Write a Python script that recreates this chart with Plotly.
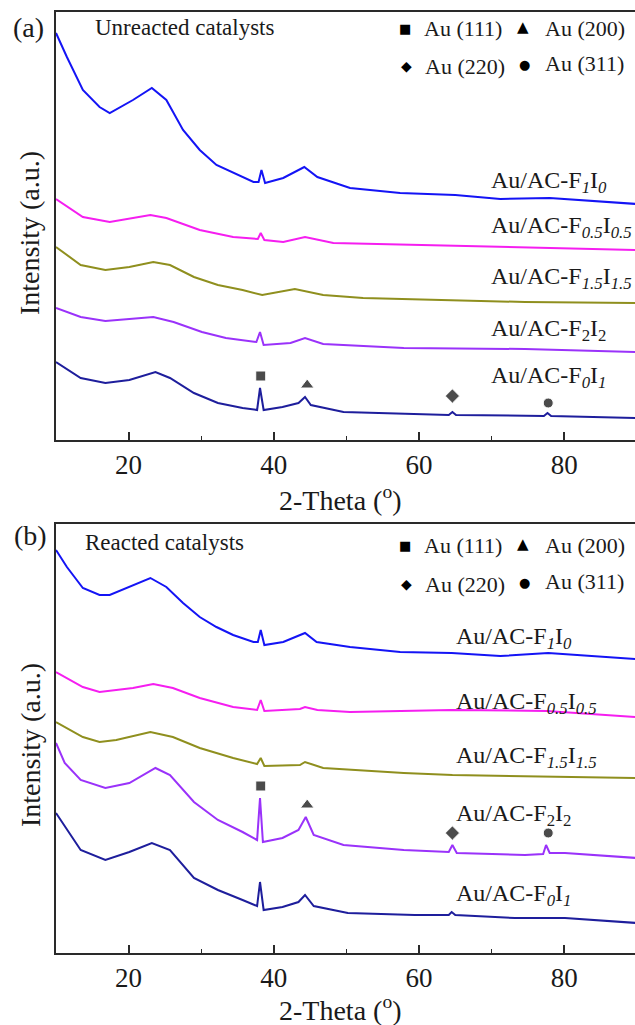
import plotly.graph_objects as go

FONT = "Liberation Serif, Times New Roman, serif"
W, H = 635, 1025

# ---------------- Panel (a): unreacted catalysts ----------------
a_F1I0_x = [10, 11.5, 13.7, 16, 17.4, 20.6, 23.2, 25.2, 27.5, 29.8, 32.1, 34.4, 37.2, 37.9, 38.3, 38.8, 41.3, 44.2, 46, 50.5, 57.4, 65, 71.2, 78, 90]
a_F1I0_y = [407, 383, 350, 333, 327, 340, 352, 340, 310, 290, 275, 267, 258, 258, 270, 257, 262, 273, 263, 252, 247, 245, 241, 242, 236]

a_F05_x = [10, 13.7, 17.4, 23, 25.2, 29.8, 34.4, 37.8, 38.2, 38.7, 41.3, 44.3, 48.2, 64.7, 77.6, 90]
a_F05_y = [241, 223, 218, 225, 222, 210, 203, 201, 207, 200, 198, 203, 197, 194, 192, 190]

a_F15_x = [10, 13.4, 16.8, 20.1, 23.4, 25.7, 29, 32.3, 35.7, 38.4, 42.9, 46.8, 52.3, 63.4, 74.6, 90]
a_F15_y = [193, 175, 170, 173, 178, 175, 163, 155, 150, 145, 151, 145, 142, 140, 138, 137]

a_F2_x = [10, 13.4, 16.8, 20.1, 23.4, 26.2, 30.1, 33.4, 37.6, 38.1, 38.6, 42.3, 44.3, 46.8, 57.9, 74.6, 90]
a_F2_y = [132, 123, 119, 121, 123, 118, 108, 102, 98, 108, 95, 97, 102, 96, 92, 91, 88]

a_F0_x = [10, 13.4, 16.8, 20.1, 23.7, 25.7, 29, 32.3, 35.7, 37.7, 38.1, 38.6, 41.2, 43.4, 44.3, 45.1, 49.6, 57.9, 64.1, 64.6, 65.1, 77.2, 77.7, 78.2, 90]
a_F0_y = [78, 62, 57, 60, 68, 62, 47, 37, 32, 30, 52, 30, 33, 37, 43, 35, 28, 26, 25, 28, 25, 24, 27, 24, 22]

# ---------------- Panel (b): reacted catalysts ----------------
b_F1I0_x = [10, 11.5, 13.7, 16, 17.4, 20.6, 23, 25.2, 27.5, 29.8, 32.1, 34.4, 37.2, 37.8, 38.2, 38.7, 41.3, 44.3, 45.9, 50.5, 57.4, 64.5, 71.2, 77.8, 90]
b_F1I0_y = [403, 386, 365, 358, 358, 368, 375, 366, 350, 336, 326, 318, 311, 311, 323, 308, 311, 320, 311, 306, 301, 300, 297, 300, 294]

b_F05_x = [10, 13.7, 16, 20.6, 23.4, 26.1, 29.8, 34.4, 37.7, 38.2, 38.7, 43.6, 44.3, 46, 50.5, 64.5, 77.6, 90]
b_F05_y = [281, 266, 261, 265, 269, 265, 255, 246, 243, 253, 242, 244, 246, 243, 241, 243, 242, 236]

b_F15_x = [10, 13.7, 16, 18.3, 23, 26.1, 29.8, 34.4, 37.7, 38.2, 38.7, 43.6, 44.3, 46.8, 57.9, 64.6, 90]
b_F15_y = [231, 216, 211, 213, 221, 216, 205, 195, 189, 195, 187, 188, 191, 185, 180, 178, 175]

b_F2_x = [10, 11.2, 13.4, 16.8, 20.1, 23.7, 25.7, 29, 32.3, 35.7, 37.7, 38.1, 38.5, 41.2, 43.4, 44.4, 45.5, 49.6, 57.9, 64.1, 64.6, 65.2, 74.6, 77.1, 77.5, 78, 80.1, 90]
b_F2_y = [210, 190, 173, 165, 170, 185, 178, 151, 133, 121, 113, 155, 111, 115, 123, 136, 118, 108, 103, 101, 108, 100, 98, 99, 108, 100, 100, 95]

b_F0_x = [10, 13.4, 16.8, 20.1, 23.2, 25.7, 29, 32.3, 35.7, 37.7, 38.1, 38.6, 41.2, 43.4, 44.3, 45.5, 50.2, 59.4, 64.1, 64.5, 65, 73.2, 80.1, 90]
b_F0_y = [140, 103, 93, 101, 110, 103, 75, 63, 53, 47, 71, 43, 46, 51, 58, 47, 40, 38, 38, 41, 38, 35, 35, 30]

# Au reflections (marker positions above peaks)
peak_x = [38.2, 44.6, 64.6, 77.8]
peak_symbols = ["square", "triangle-up", "diamond", "circle"]
peak_sizes = [10, 12, 11, 10]
a_peak_y = [64, 55, 44, 37]
b_peak_y = [167, 148, 120, 120]
key_labels = ["Au (111)", "Au (200)", "Au (220)", "Au (311)"]

C_BLUE = "#1414F5"
C_MAG = "#F51EF0"
C_OLIVE = "#8F8F1E"
C_VIOLET = "#9A32FA"
C_NAVY = "#1E1E9C"

lab_F1I0 = "Au/AC-F<sub><i>1</i></sub>I<sub><i>0</i></sub>"
lab_F05 = "Au/AC-F<sub><i>0.5</i></sub>I<sub><i>0.5</i></sub>"
lab_F15 = "Au/AC-F<sub><i>1.5</i></sub>I<sub><i>1.5</i></sub>"
lab_F2 = "Au/AC-F<sub>2</sub>I<sub>2</sub>"
lab_F0 = "Au/AC-F<sub><i>0</i></sub>I<sub><i>1</i></sub>"

fig = go.Figure()

series_a = [(a_F1I0_x, a_F1I0_y, C_BLUE), (a_F05_x, a_F05_y, C_MAG), (a_F15_x, a_F15_y, C_OLIVE),
            (a_F2_x, a_F2_y, C_VIOLET), (a_F0_x, a_F0_y, C_NAVY)]
series_b = [(b_F1I0_x, b_F1I0_y, C_BLUE), (b_F05_x, b_F05_y, C_MAG), (b_F15_x, b_F15_y, C_OLIVE),
            (b_F2_x, b_F2_y, C_VIOLET), (b_F0_x, b_F0_y, C_NAVY)]

for xs, ys, c in series_a:
    fig.add_trace(go.Scatter(x=xs, y=ys, mode="lines", line=dict(color=c, width=2),
                             xaxis="x", yaxis="y", showlegend=False, hoverinfo="skip"))
for xs, ys, c in series_b:
    fig.add_trace(go.Scatter(x=xs, y=ys, mode="lines", line=dict(color=c, width=2),
                             xaxis="x2", yaxis="y2", showlegend=False, hoverinfo="skip"))

fig.add_trace(go.Scatter(x=peak_x, y=a_peak_y, mode="markers", xaxis="x", yaxis="y",
                         marker=dict(symbol=peak_symbols, size=peak_sizes, color="black"),
                         showlegend=False, hoverinfo="skip"))
fig.add_trace(go.Scatter(x=peak_x, y=b_peak_y, mode="markers", xaxis="x2", yaxis="y2",
                         marker=dict(symbol=peak_symbols, size=peak_sizes, color="black"),
                         showlegend=False, hoverinfo="skip"))


def PX(px):
    return px / W


def PY(py):
    return 1 - py / H


ax_common = dict(range=[10, 10 + (635 - 56) / 7.26], showline=True, linecolor="#2a2a2a", linewidth=1.8,
                 mirror=True, ticks="inside", ticklen=8, tickwidth=1.6, tickcolor="#2a2a2a",
                 tickvals=[20, 40, 60, 80], showgrid=False, zeroline=False,
                 tickfont=dict(family=FONT, size=27, color="#1a1a1a"), ticklabelstandoff=0,
                 minor=dict(ticks="inside", ticklen=4, tickwidth=1.4, tickcolor="#2a2a2a",
                            tickvals=[30, 50, 70]))
ay_common = dict(showline=True, linecolor="#2a2a2a", linewidth=1.8, mirror=False, ticks="",
                 showticklabels=False, showgrid=False, zeroline=False)

fig.update_layout(
    width=W, height=H, margin=dict(l=0, r=0, t=0, b=0),
    paper_bgcolor="white", plot_bgcolor="white",
    xaxis=dict(domain=[PX(56), 1], anchor="y", **ax_common),
    yaxis=dict(domain=[PY(440), PY(12)], anchor="x", range=[0, 428], **ay_common),
    xaxis2=dict(domain=[PX(56), 1], anchor="y2", **ax_common),
    yaxis2=dict(domain=[PY(953), PY(524)], anchor="x2", range=[0, 429], **ay_common),
)

ann = []


def text(px, py, s, size, xanchor="left", angle=0, color="#1a1a1a"):
    ann.append(dict(x=PX(px), y=PY(py), xref="paper", yref="paper", text=s, showarrow=False,
                    xanchor=xanchor, yanchor="middle", textangle=angle,
                    font=dict(family=FONT, size=size, color=color)))


def glyph(px, py, s, size):
    ann.append(dict(x=PX(px), y=PY(py), xref="paper", yref="paper", text=s, showarrow=False,
                    xanchor="center", yanchor="middle",
                    font=dict(family="DejaVu Sans", size=size, color="black")))


# panel tags and titles
text(28, 27, "(a)", 28, "center")
text(93, 27, "Unreacted catalysts", 23)
text(30, 535, "(b)", 28, "center")
text(83, 542, "Reacted catalysts", 23)

# axis titles
for yc in (233, 745):
    text(30, yc, "Intensity (a.u.)", 28, "center", angle=-90)
for yc in (498, 1008):
    text(340, yc, "2-Theta (<sup>o</sup>)", 28, "center")

# keys
for r1, r2 in ((28, 66), (545, 584)):
    glyph(405, r1, "\u25A0", 13)
    text(422, r1, key_labels[0], 22)
    glyph(523, r1 - 1, "\u25B2", 15)
    text(543, r1, key_labels[1], 22)
    glyph(406, r2, "\u25C6", 14)
    text(423, r2, key_labels[2], 22)
    glyph(524, r2 - 2, "\u25CF", 13)
    text(543, r2 - 3, key_labels[3], 22)

# curve labels
labels = [lab_F1I0, lab_F05, lab_F15, lab_F2, lab_F0]
for s, yc in zip(labels, [182, 227, 278, 330, 377]):
    text(489, yc, s, 24)
for s, yc in zip(labels, [638, 703, 757, 815, 895]):
    text(454, yc, s, 24)

fig.update_layout(annotations=ann)
fig.write_html("out.html")
